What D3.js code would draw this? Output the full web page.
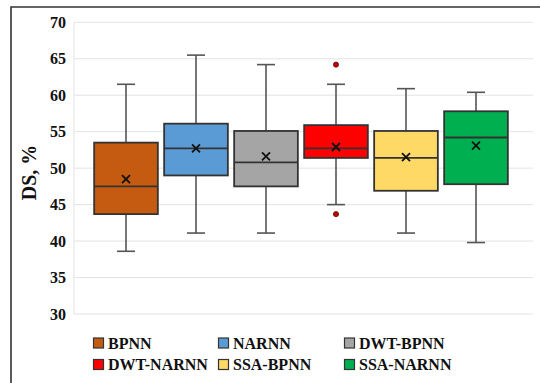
<!DOCTYPE html>
<html>
<head>
<meta charset="utf-8">
<script src="https://cdn.jsdelivr.net/npm/d3@7"></script>
<style>
  html, body { margin: 0; padding: 0; background: #fff; }
  svg { display: block; }
  text { font-family: "Liberation Serif", "Times New Roman", serif; font-weight: bold; fill: #111; }
</style>
</head>
<body>
<svg id="chart" width="540" height="383"></svg>
<script>
// Box-plot statistics for each model (DS, %)
const models   = ["BPNN", "NARNN", "DWT-BPNN", "DWT-NARNN", "SSA-BPNN", "SSA-NARNN"];
const colors   = ["#C55A11", "#5B9BD5", "#A5A5A5", "#FF0000", "#FFD966", "#00B050"];
const whiskLow = [38.6, 41.1, 41.1, 45.0, 41.1, 39.8];
const q1       = [43.7, 49.0, 47.5, 51.4, 46.9, 47.8];
const median   = [47.5, 52.7, 50.8, 52.7, 51.4, 54.2];
const q3       = [53.5, 56.1, 55.1, 55.9, 55.1, 57.8];
const whiskHigh= [61.5, 65.5, 64.2, 61.5, 60.9, 60.4];
const means    = [48.5, 52.7, 51.6, 52.9, 51.5, 53.1];
const outliers = [[], [], [], [64.2, 43.7], [], []];
const yTicks   = [30, 35, 40, 45, 50, 55, 60, 65, 70];

const svg = d3.select("#chart");

const plot = { left: 74, right: 533, top: 22.3, bottom: 314 };

const y = d3.scaleLinear().domain([30, 70]).range([plot.bottom, plot.top]);
const x = d3.scaleBand().domain(models).range([91, 511]).padding(0);
const boxW = x.bandwidth() * 0.91;
const capW = 18;

// outer frame (top and left edges)
svg.append("path")
  .attr("d", "M11,383 L11,7 L540,7")
  .attr("fill", "none").attr("stroke", "#333").attr("stroke-width", 1.6);

// horizontal gridlines
svg.append("g").selectAll("line").data(yTicks).join("line")
  .attr("x1", plot.left).attr("x2", plot.right)
  .attr("y1", d => y(d)).attr("y2", d => y(d))
  .attr("stroke", "#e3e3e3").attr("stroke-width", 1);

// left plot edge
svg.append("line")
  .attr("x1", plot.left).attr("x2", plot.left)
  .attr("y1", plot.top).attr("y2", plot.bottom)
  .attr("stroke", "#e3e3e3").attr("stroke-width", 1);

// y axis tick labels
const yAxis = d3.axisLeft(y).tickValues(yTicks).tickSize(0).tickPadding(8);
const ag = svg.append("g").attr("transform", `translate(${plot.left},0)`).call(yAxis);
ag.select(".domain").remove();
ag.attr("font-family", null).attr("font-size", null);
ag.selectAll("text")
  .style("font-family", "'Liberation Serif', serif")
  .style("font-weight", "bold")
  .style("font-size", "16px")
  .style("fill", "#111");

// y axis title
svg.append("text")
  .attr("transform", "translate(36,172.5) rotate(-90)")
  .attr("text-anchor", "middle")
  .attr("font-size", 20)
  .text("DS, %");

// boxes
const rows = models.map((m, i) => ({
  m, c: colors[i], lo: whiskLow[i], q1: q1[i], med: median[i], q3: q3[i],
  hi: whiskHigh[i], mean: means[i], out: outliers[i]
}));

const g = svg.append("g").selectAll("g").data(rows).join("g")
  .attr("transform", d => `translate(${x(d.m) + x.bandwidth() / 2},0)`);

// whiskers
g.append("line").attr("x1", 0).attr("x2", 0)
  .attr("y1", d => y(d.q3)).attr("y2", d => y(d.hi))
  .attr("stroke", "#555").attr("stroke-width", 1.6);
g.append("line").attr("x1", 0).attr("x2", 0)
  .attr("y1", d => y(d.q1)).attr("y2", d => y(d.lo))
  .attr("stroke", "#555").attr("stroke-width", 1.6);
g.append("line").attr("x1", -capW / 2).attr("x2", capW / 2)
  .attr("y1", d => y(d.hi)).attr("y2", d => y(d.hi))
  .attr("stroke", "#555").attr("stroke-width", 1.6);
g.append("line").attr("x1", -capW / 2).attr("x2", capW / 2)
  .attr("y1", d => y(d.lo)).attr("y2", d => y(d.lo))
  .attr("stroke", "#555").attr("stroke-width", 1.6);

// box body
g.append("rect")
  .attr("x", -boxW / 2).attr("width", boxW)
  .attr("y", d => y(d.q3)).attr("height", d => y(d.q1) - y(d.q3))
  .attr("fill", d => d.c).attr("stroke", "#333").attr("stroke-width", 1.8);

// median
g.append("line").attr("x1", -boxW / 2).attr("x2", boxW / 2)
  .attr("y1", d => y(d.med)).attr("y2", d => y(d.med))
  .attr("stroke", "#333").attr("stroke-width", 1.8);

// mean marker
const ms = 4;
g.append("path")
  .attr("d", d => `M${-ms},${y(d.mean) - ms}L${ms},${y(d.mean) + ms}M${-ms},${y(d.mean) + ms}L${ms},${y(d.mean) - ms}`)
  .attr("stroke", "#111").attr("stroke-width", 1.8).attr("fill", "none");

// outliers
g.selectAll("circle").data(d => d.out.map(v => ({ v, c: d.c }))).join("circle")
  .attr("cx", 0).attr("cy", d => y(d.v)).attr("r", 2.6)
  .attr("fill", "#c00000").attr("stroke", "#6a1010").attr("stroke-width", 0.8);

// legend
const legX = [93, 218, 344];
const legY = [343, 364.5];
const lg = svg.append("g").selectAll("g").data(rows).join("g")
  .attr("transform", (d, i) => `translate(${legX[i % 3]},${legY[Math.floor(i / 3)]})`);
lg.append("rect").attr("x", 0.5).attr("y", -5).attr("width", 10).attr("height", 10)
  .attr("fill", d => d.c).attr("stroke", "#333").attr("stroke-width", 1.2);
lg.append("text").attr("x", 15).attr("y", 5.5)
  .attr("font-size", 16)
  .text(d => d.m);
</script>
</body>
</html>
